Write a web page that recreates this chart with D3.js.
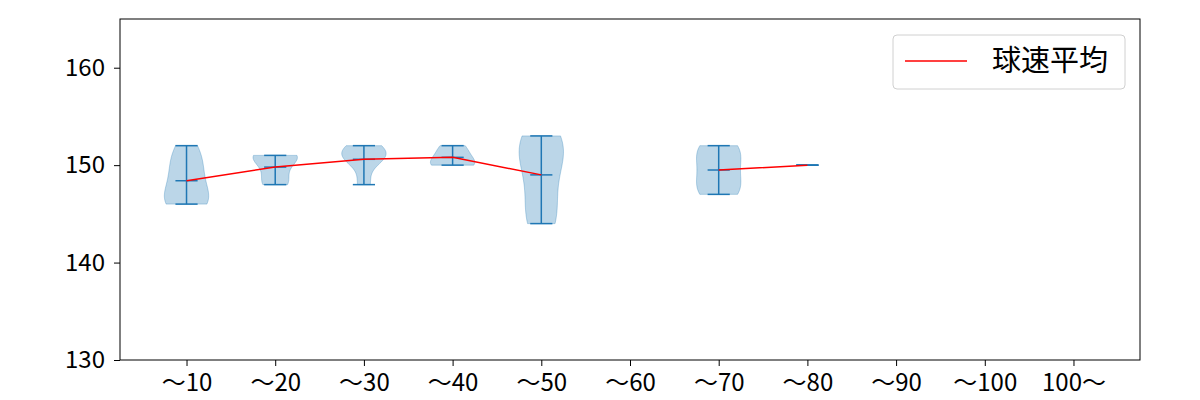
<!DOCTYPE html>
<html>
<head>
<meta charset="utf-8">
<script src="https://cdn.jsdelivr.net/npm/d3@7"></script>
<style>
  body { margin: 0; background: #fff; }
  text { font-family: "Noto Sans CJK JP", "Noto Sans", sans-serif; }
</style>
</head>
<body>
<div id="chart"></div>
<script>
//Chart size and plot area
let width = 1200,
  height = 400;
let margin = {top: 19, right: 60, bottom: 40, left: 120};

//Categories on the x axis
let categories = ["～10", "～20", "～30", "～40", "～50", "～60", "～70", "～80", "～90", "～100", "100～"];

//Pitch speeds per category (km/h)
let speeds10 = [146, 146, 146, 147, 148, 149, 150, 151, 152];
let speeds20 = [148, 148, 149, 150, 151, 151, 151, 151];
let speeds30 = [148, 151, 151, 151, 152];
let speeds40 = [150, 150, 151, 152];
let speeds50 = [144, 144, 146, 148, 150, 151, 152, 153, 153];
let speeds60 = [];
let speeds70 = [147, 147, 148, 149, 150, 151, 152, 152];
let speeds80 = [150];
let speeds90 = [];
let speeds100 = [];
let speeds100plus = [];
let speedSets = [speeds10, speeds20, speeds30, speeds40, speeds50, speeds60,
  speeds70, speeds80, speeds90, speeds100, speeds100plus];

//Mean speed line (null where there is no data)
let meanSpeeds = [148.4, 149.8, 150.6, 150.8, 149.0, null, 149.5, 150.0, null, null, null];

let yTicks = [130, 140, 150, 160];
let legendLabel = "球速平均";

let blue = "#1f77b4";

let svg = d3.select("#chart").append("svg")
  .attr("width", width)
  .attr("height", height);

let x = d3.scaleLinear().domain([0.25, 11.75]).range([margin.left, width - margin.right]);
let y = d3.scaleLinear().domain([130, 165]).range([height - margin.bottom, margin.top]);

//clip for the plot area
svg.append("clipPath").attr("id", "plot")
  .append("rect")
  .attr("x", margin.left).attr("y", margin.top)
  .attr("width", width - margin.left - margin.right)
  .attr("height", height - margin.top - margin.bottom);

//Gaussian kde, scott bandwidth like matplotlib
function kde(values) {
  let n = values.length;
  let sd = d3.deviation(values);
  let bw = sd * Math.pow(n, -1 / 5);
  let lo = d3.min(values), hi = d3.max(values);
  let pts = d3.range(100).map(i => lo + (hi - lo) * i / 99);
  return pts.map(p => [p, d3.sum(values, v => Math.exp(-0.5 * ((p - v) / bw) ** 2))]);
}

let plot = svg.append("g").attr("clip-path", "url(#plot)");
let halfWidth = 0.25;

speedSets.forEach(function (vals, i) {
  let pos = i + 1;
  if (vals.length > 1) {
    let dens = kde(vals);
    let maxD = d3.max(dens, d => d[1]);
    let area = d3.area()
      .y(d => y(d[0]))
      .x0(d => x(pos - halfWidth * d[1] / maxD))
      .x1(d => x(pos + halfWidth * d[1] / maxD));
    plot.append("path")
      .attr("d", area(dens))
      .attr("fill", blue)
      .attr("fill-opacity", 0.3)
      .attr("stroke", blue)
      .attr("stroke-opacity", 0.3)
      .attr("stroke-width", 1);
  }
  if (vals.length > 0) {
    let mn = d3.min(vals), mx = d3.max(vals);
    let g = plot.append("g")
      .attr("stroke", blue)
      .attr("stroke-width", 1.5);
    [mn, mx, meanSpeeds[i]].forEach(function (v) {
      g.append("line")
        .attr("x1", x(pos - 0.125)).attr("x2", x(pos + 0.125))
        .attr("y1", y(v)).attr("y2", y(v));
    });
    g.append("line")
      .attr("x1", x(pos)).attr("x2", x(pos))
      .attr("y1", y(mn)).attr("y2", y(mx));
  }
});

//mean line
let meanLine = d3.line()
  .defined(d => d != null)
  .x((d, i) => x(i + 1))
  .y(d => y(d));
plot.append("path")
  .attr("d", meanLine(meanSpeeds))
  .attr("fill", "none")
  .attr("stroke", "red")
  .attr("stroke-width", 1.5);

//axes
let xAxis = svg.append("g")
  .attr("transform", "translate(0," + (height - margin.bottom) + ")")
  .call(d3.axisBottom(x)
    .tickValues(d3.range(1, 12))
    .tickFormat(d => categories[d - 1])
    .tickSize(6).tickPadding(8));
let yAxis = svg.append("g")
  .attr("transform", "translate(" + margin.left + ",0)")
  .call(d3.axisLeft(y).tickValues(yTicks).tickSize(6).tickPadding(9));
[xAxis, yAxis].forEach(a => {
  a.selectAll("text").attr("font-size", 24).attr("fill", "#000")
    .style("font-family", '"Noto Sans CJK JP", sans-serif');
  a.selectAll("line").attr("stroke", "#000").attr("stroke-width", 1);
  a.select(".domain").remove();
});

//frame
svg.append("rect")
  .attr("x", margin.left).attr("y", margin.top)
  .attr("width", width - margin.left - margin.right)
  .attr("height", height - margin.top - margin.bottom)
  .attr("fill", "none")
  .attr("stroke", "#000")
  .attr("stroke-width", 1);

//legend
let legend = svg.append("g").attr("transform", "translate(893,35)");
legend.append("rect")
  .attr("width", 232).attr("height", 54)
  .attr("rx", 4)
  .attr("fill", "#fff").attr("fill-opacity", 0.8)
  .attr("stroke", "#d0d0d0");
legend.append("line")
  .attr("x1", 12).attr("x2", 74).attr("y1", 26).attr("y2", 26)
  .attr("stroke", "red").attr("stroke-width", 1.5);
legend.append("text")
  .attr("x", 99).attr("y", 36)
  .attr("font-size", 29)
  .text(legendLabel);
</script>
</body>
</html>
